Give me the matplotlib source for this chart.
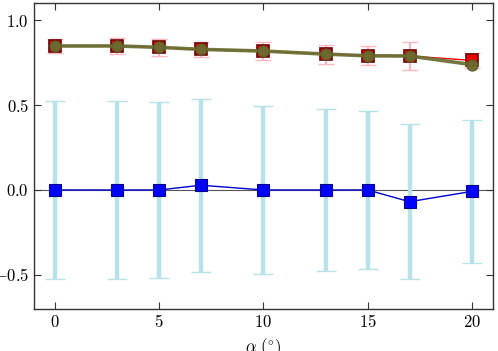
import matplotlib
matplotlib.use("Agg")
import matplotlib.pyplot as plt
import numpy as np

plt.rcParams['mathtext.fontset'] = 'cm'
plt.rcParams['font.family'] = 'serif'
plt.rcParams['font.serif'] = ['DejaVu Serif']

alpha_deg = [0, 3, 5, 7, 10, 13, 15, 17, 20]
red_vals = [0.848, 0.848, 0.840, 0.828, 0.818, 0.800, 0.790, 0.789, 0.763]
red_err = [0.040, 0.048, 0.050, 0.046, 0.055, 0.056, 0.055, 0.080, 0.045]
olive_vals = [0.848, 0.848, 0.840, 0.828, 0.818, 0.800, 0.790, 0.789, 0.738]
blue_vals = [0.0, 0.0, 0.0, 0.028, 0.0, 0.0, 0.0, -0.069, -0.008]
blue_err = [0.526, 0.523, 0.518, 0.508, 0.495, 0.476, 0.463, 0.458, 0.423]

xticks = [0, 5, 10, 15, 20]
yticks = [-0.5, 0.0, 0.5, 1.0]
ytick_labels = ['-0.5', '0.0', '0.5', '1.0']

fig = plt.figure(figsize=(4.98, 3.51), dpi=100)
ax = fig.add_axes([0.068, 0.12, 0.922, 0.871])

ax.axhline(0, color='#555555', lw=0.8, zorder=1)

ax.errorbar(alpha_deg, blue_vals, yerr=blue_err, fmt='none', ecolor='#b7e2e8',
            elinewidth=3.2, capsize=7.5, capthick=1.0, zorder=2)
ax.plot(alpha_deg, blue_vals, color='#0000cc', lw=1.0, marker='s', markersize=8.5,
        markerfacecolor='#0000ff', markeredgecolor='#000088', markeredgewidth=0.8, zorder=4)

ax.errorbar(alpha_deg, red_vals, yerr=red_err, fmt='none', ecolor='#ffb6c1',
            elinewidth=1.5, capsize=5.5, capthick=1.0, zorder=2)
ax.plot(alpha_deg, red_vals, color='#ff0000', lw=1.0, marker='s', markersize=8.5,
        markerfacecolor='#ee0000', markeredgecolor='#700000', markeredgewidth=1.2, zorder=3)
ax.plot(alpha_deg, olive_vals, color='#6b7035', lw=2.6, marker='o', markersize=8,
        markerfacecolor='#6b6a30', markeredgecolor='#5a5a28', markeredgewidth=0.8,
        alpha=0.95, zorder=5)

ax.set_xlim(-1, 21)
ax.set_ylim(-0.7, 1.1)
ax.set_xticks(xticks)
ax.set_xticklabels([f'${t}$' for t in xticks], fontsize=12)
ax.set_yticks(yticks)
ax.set_yticklabels([r'$\mathrm{' + s + '}$' for s in ytick_labels], fontsize=12)
ax.set_xlabel(r'$\alpha\ (^{\circ})$', fontsize=12, labelpad=4)

ax.tick_params(direction='in', length=5, width=0.8, top=True, right=True, colors='#333333',
               labelcolor='black')
for s in ax.spines.values():
    s.set_color('#333333')
    s.set_linewidth(1.0)

fig.savefig('out.png', dpi=100)
